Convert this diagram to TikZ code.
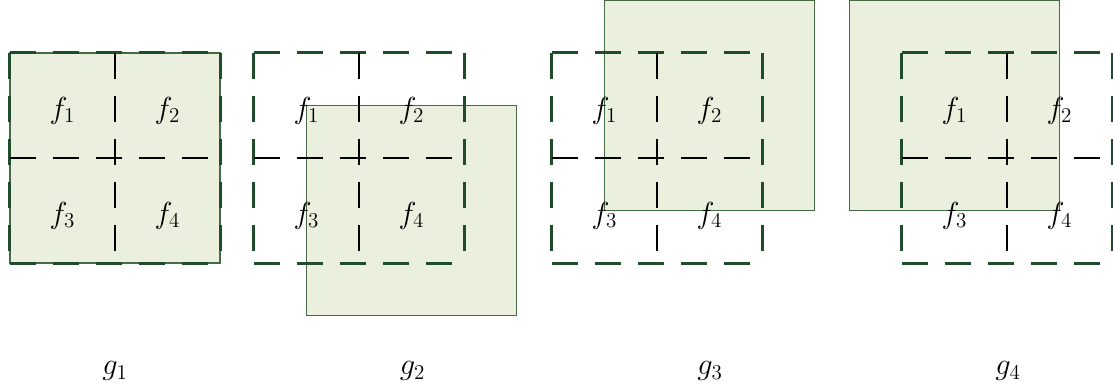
\documentclass[tikz,border=0pt]{standalone}
\usepackage{amsmath}
\usetikzlibrary{positioning,calc}
\definecolor{gdark}{RGB}{31,77,44}
\definecolor{gpale}{RGB}{234,239,222}
\definecolor{gedge}{RGB}{70,105,70}
\tikzset{
  patch/.style={draw=gedge, fill=gpale, line width=0.6pt,
                minimum size=4.2cm, inner sep=0pt},
  window/.style={minimum size=4.2cm, inner sep=0pt},
  frame/.style={draw=gdark, line width=1.6pt, dash pattern=on 15pt off 9.5pt},
  split/.style={draw=black, line width=1.6pt, dash pattern=on 15pt off 9.5pt},
  flab/.style={font=\LARGE},
  glab/.style={font=\LARGE},
}
\newcommand{\winframe}[1]{%
  \draw[frame] (#1.north west) -- (#1.north east) (#1.north west) -- (#1.south west)
               (#1.south west) -- (#1.south east) (#1.north east) -- (#1.south east);
  \draw[split] (#1.north) -- (#1.south) (#1.west) -- (#1.east);}

\begin{document}
\begin{tikzpicture}
  \useasboundingbox (0,0) rectangle (22.26,7.82);

  % Panel g_1
  \node[patch] (s1) at (2.3,4.66) {};
  \node[window] (w1) at (2.3,4.66) {};
  \winframe{w1}
  \node[flab] (a1) at ($(w1.center)+(-1.05,0.95)$) {$f_1$};
  \node[flab] (a2) at ($(w1.center)+(1.05,0.95)$) {$f_2$};
  \node[flab] (a3) at ($(w1.center)+(-1.05,-1.15)$) {$f_3$};
  \node[flab] (a4) at ($(w1.center)+(1.05,-1.15)$) {$f_4$};

  % Panel g_2
  \node[patch] (s2) at (8.23,3.61) {};
  \node[window] (w2) at (7.18,4.66) {};
  \winframe{w2}
  \node[flab] (b1) at ($(w2.center)+(-1.05,0.95)$) {$f_1$};
  \node[flab] (b2) at ($(w2.center)+(1.05,0.95)$) {$f_2$};
  \node[flab] (b3) at ($(w2.center)+(-1.05,-1.15)$) {$f_3$};
  \node[flab] (b4) at ($(w2.center)+(1.05,-1.15)$) {$f_4$};

  % Panel g_3
  \node[patch] (s3) at (14.19,5.71) {};
  \node[window] (w3) at (13.14,4.66) {};
  \winframe{w3}
  \node[flab] (c1) at ($(w3.center)+(-1.05,0.95)$) {$f_1$};
  \node[flab] (c2) at ($(w3.center)+(1.05,0.95)$) {$f_2$};
  \node[flab] (c3) at ($(w3.center)+(-1.05,-1.15)$) {$f_3$};
  \node[flab] (c4) at ($(w3.center)+(1.05,-1.15)$) {$f_4$};

  % Panel g_4
  \node[patch] (s4) at (19.09,5.71) {};
  \node[window] (w4) at (20.14,4.66) {};
  \winframe{w4}
  \node[flab] (d1) at ($(w4.center)+(-1.05,0.95)$) {$f_1$};
  \node[flab] (d2) at ($(w4.center)+(1.05,0.95)$) {$f_2$};
  \node[flab] (d3) at ($(w4.center)+(-1.05,-1.15)$) {$f_3$};
  \node[flab] (d4) at ($(w4.center)+(1.05,-1.15)$) {$f_4$};

  % Output labels
  \node[glab] (g1) at (2.3,0.4) {$g_1$};
  \node[glab] (g2) at (8.25,0.4) {$g_2$};
  \node[glab] (g3) at (14.2,0.4) {$g_3$};
  \node[glab] (g4) at (20.16,0.4) {$g_4$};
\end{tikzpicture}
\end{document}
